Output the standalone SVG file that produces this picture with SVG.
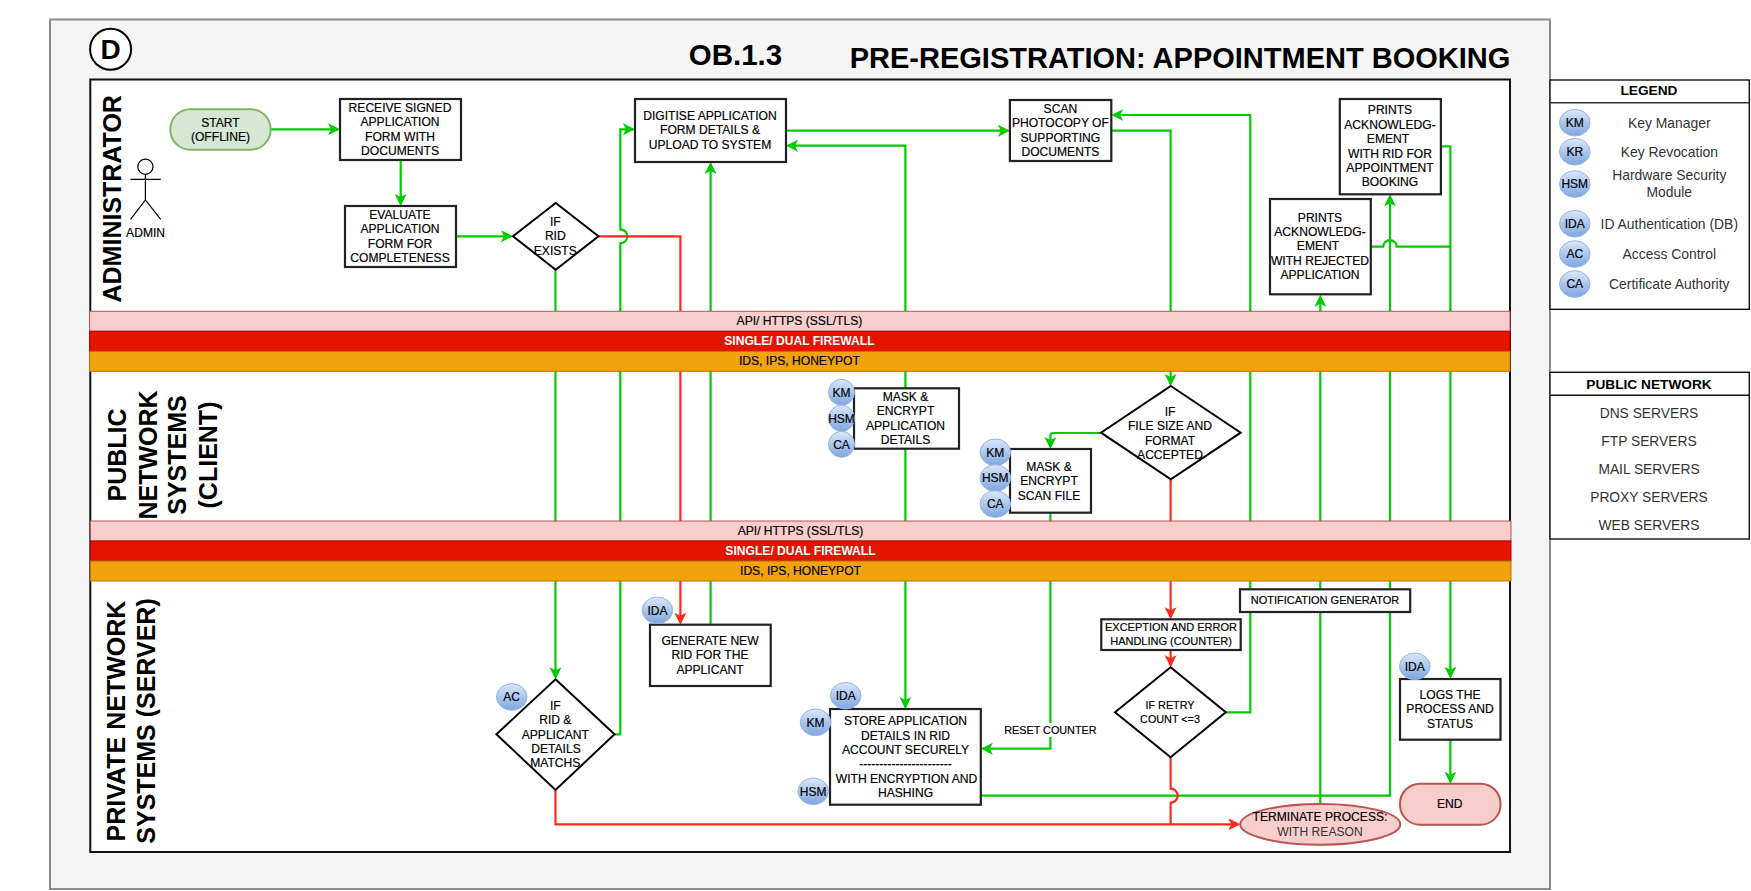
<svg xmlns="http://www.w3.org/2000/svg" width="1751" height="891" viewBox="0 0 1751 891">
<style>
text{font-family:"Liberation Sans",Arial,sans-serif;font-size:12.1px;fill:#000;stroke:#000;stroke-width:.18;text-anchor:middle}
.lane{font-size:25px;font-weight:700;stroke:none}
.title{font-weight:700;stroke:none}
.head{font-size:13.7px;font-weight:700;stroke:none}
.leg{font-size:13.9px;fill:#333;stroke:none}
.pub{font-size:13.8px;fill:#333;stroke:none}
.cir{font-size:12px}
.small{font-size:11px}
.tiny{font-size:10.8px}
.white{fill:#fff;stroke:none;font-weight:700}
.box{fill:#fff;stroke:#222;stroke-width:2.2}
.dia{fill:#fff;stroke:#000;stroke-width:2}
.bub{fill:url(#bubble);stroke:#9ab4dc;stroke-width:1}
.g{fill:none;stroke:#00cc00;stroke-width:2.2}
.r{fill:none;stroke:#ff2a1c;stroke-width:2.2}
.ga{marker-end:url(#ag)}
.ra{marker-end:url(#ar)}
.pink{fill:#f8cecc;stroke:#b85450;stroke-width:1}
.redb{fill:#e51400;stroke:#b20000;stroke-width:1}
.orb{fill:#f0a30a;stroke:#bd7000;stroke-width:1}
.term{fill:#f8cecc;stroke:#b85450;stroke-width:2}
.actor{fill:none;stroke:#000;stroke-width:1.2}
</style>
<defs>
<linearGradient id="bubble" x1="0" y1="0" x2="0" y2="1"><stop offset="0" stop-color="#dae8fc"/><stop offset="1" stop-color="#7ea6e0"/></linearGradient>
<marker id="ag" markerUnits="userSpaceOnUse" markerWidth="14" markerHeight="14" viewBox="0 0 14 14" refX="10" refY="7" orient="auto"><path d="M0 1L12 7L0 13L3 7Z" fill="#00cc00"/></marker>
<marker id="ar" markerUnits="userSpaceOnUse" markerWidth="14" markerHeight="14" viewBox="0 0 14 14" refX="10" refY="7" orient="auto"><path d="M0 1L12 7L0 13L3 7Z" fill="#ff2a1c"/></marker>
</defs>

<g id="frame">
<rect x="50" y="19.5" width="1500" height="869.5" fill="#f5f5f5" stroke="#8c8c8c" stroke-width="2"/>
<rect x="90.3" y="79.5" width="1419.7" height="772.5" fill="#fff" stroke="#111" stroke-width="2"/>
<ellipse cx="110.6" cy="49.3" rx="20.5" ry="20.5" fill="#fff" stroke="#000" stroke-width="2"/>
<text class="title" x="110.6" y="59" style="font-size:28px">D</text>
<text class="title" x="735.5" y="64.5" style="font-size:29.5px">OB.1.3</text>
<text class="title" x="1180" y="67.7" style="font-size:29px">PRE-REGISTRATION: APPOINTMENT BOOKING</text>
<text class="lane" transform="translate(120.5 198.8) rotate(-90)">ADMINISTRATOR</text>
<text class="lane" transform="translate(126.3 455) rotate(-90)">PUBLIC</text>
<text class="lane" transform="translate(157 455) rotate(-90)">NETWORK</text>
<text class="lane" transform="translate(186.4 455) rotate(-90)">SYSTEMS</text>
<text class="lane" transform="translate(216.6 455) rotate(-90)">(CLIENT)</text>
<text class="lane" transform="translate(125 721) rotate(-90)">PRIVATE NETWORK</text>
<text class="lane" transform="translate(155 721) rotate(-90)">SYSTEMS (SERVER)</text>
</g>

<g id="connectors">
<path class="g ga" d="M270.6 129.3H338"/>
<path class="g ga" d="M400.7 160V204"/>
<path class="g ga" d="M456 236.3H511"/>
<path class="g ga" d="M555.5 269.7V677.3"/>
<path class="g ga" d="M614.5 734.3H620.3V243.3A7 7 0 0 0 620.3 229.3V129.3H633"/>
<path class="r ra" d="M598.5 236.3H680.4V622.7"/>
<path class="g ga" d="M710.6 624.7V164"/>
<path class="g ga" d="M786 130.7H1007.9"/>
<path class="g ga" d="M905.4 388.3V145.7H788"/>
<path class="g ga" d="M905.4 448.7V707"/>
<path class="g ga" d="M1111.3 130.7H1170.6V384"/>
<path class="g ga" d="M1101 433H1053Q1050.4 433 1050.4 436V447"/>
<path class="g ga" d="M1050.4 512.7V748.7H982.8"/>
<path class="r ra" d="M1170.6 479.3V617.3"/>
<path class="r ra" d="M1170.6 650V665.3"/>
<path class="g ga" d="M1225.8 712.3H1250.3V115H1113.3"/>
<path class="g ga" d="M1320.3 804V296.7"/>
<path class="g ga" d="M980.8 795.7H1390V196.3"/>
<path class="g ga" d="M1440.9 146.3H1450.4V676.7"/>
<path class="g" d="M1370.8 246.7H1383.3A6.7 6.7 0 0 1 1396.7 246.7H1450.4"/>
<path class="g ga" d="M1450.4 739.7V781.7"/>
<path class="r" d="M1170.6 757.3V788.7A7 7 0 0 1 1170.6 802.7V824.3"/>
<path class="r ra" d="M555.5 790V824.3H1238.3"/>
</g>

<g id="bands">
<g id="band-api-1"><rect class="pink" x="89.6" y="311.3" width="1420.4" height="20"/><text x="799.4" y="325">API/ HTTPS (SSL/TLS)</text></g>
<g id="band-fw-1"><rect class="redb" x="89.6" y="331.3" width="1420.4" height="20"/><text class="white" x="799.4" y="345">SINGLE/ DUAL FIREWALL</text></g>
<g id="band-ids-1"><rect class="orb" x="89.6" y="351.3" width="1420.4" height="20"/><text x="799.4" y="365">IDS, IPS, HONEYPOT</text></g>
<g id="band-api-2"><rect class="pink" x="90.5" y="521" width="1420.5" height="20"/><text x="800.5" y="535">API/ HTTPS (SSL/TLS)</text></g>
<g id="band-fw-2"><rect class="redb" x="90.5" y="541" width="1420.5" height="20"/><text class="white" x="800.5" y="555">SINGLE/ DUAL FIREWALL</text></g>
<g id="band-ids-2"><rect class="orb" x="90.5" y="561" width="1420.5" height="20"/><text x="800.5" y="575">IDS, IPS, HONEYPOT</text></g>
</g>

<g id="admin-actor">
<ellipse class="actor" cx="145.4" cy="166.7" rx="7.6" ry="7.6"/>
<path class="actor" d="M145.4 174.3V200M130.5 179.3H160.7M130.5 219.3L145.4 200L160.7 219.3"/>
<text x="145.6" y="236.7">ADMIN</text>
</g>

<g id="start"><rect class="term" style="fill:#d5e8d4;stroke:#82b366" x="170.3" y="109.3" width="100.3" height="40.4" rx="20" ry="20"/><text x="220.5" y="126.7">START</text><text x="220.5" y="141">(OFFLINE)</text></g>
<g id="receive"><rect class="box" x="340" y="99" width="121" height="61"/><text x="400" y="112.3">RECEIVE SIGNED</text><text x="400" y="126.3">APPLICATION</text><text x="400" y="141.3">FORM WITH</text><text x="400" y="155.3">DOCUMENTS</text></g>
<g id="evaluate"><rect class="box" x="345" y="206" width="111" height="61"/><text x="400" y="219.3">EVALUATE</text><text x="400" y="233.3">APPLICATION</text><text x="400" y="248.3">FORM FOR</text><text x="400" y="262.3">COMPLETENESS</text></g>
<g id="rid-exists"><path class="dia" d="M555.7 203L598.5 236.3L555.7 269.7L513 236.3Z"/><text x="555.3" y="226">IF</text><text x="555.3" y="240">RID</text><text x="555.3" y="255">EXISTS</text></g>
<g id="digitise"><rect class="box" x="635" y="99" width="151" height="63"/><text x="710" y="120">DIGITISE APPLICATION</text><text x="710" y="134">FORM DETAILS &amp;</text><text x="710" y="148.7">UPLOAD TO SYSTEM</text></g>
<g id="scan"><rect class="box" x="1009.9" y="100" width="101.4" height="61"/><text x="1060.4" y="113">SCAN</text><text x="1060.4" y="127">PHOTOCOPY OF</text><text x="1060.4" y="142">SUPPORTING</text><text x="1060.4" y="156">DOCUMENTS</text></g>
<g id="prints-rid"><rect class="box" x="1339.8" y="99" width="101.1" height="95.3"/><text x="1390" y="114">PRINTS</text><text x="1390" y="129.3">ACKNOWLEDG-</text><text x="1388" y="143.3">EMENT</text><text x="1390" y="158.3">WITH RID FOR</text><text x="1390" y="172.3">APPOINTMENT</text><text x="1390" y="186">BOOKING</text></g>
<g id="prints-rejected"><rect class="box" x="1270" y="199" width="100.8" height="95.3"/><text x="1320" y="222">PRINTS</text><text x="1320" y="236">ACKNOWLEDG-</text><text x="1318" y="250">EMENT</text><text x="1320" y="264.7">WITH REJECTED</text><text x="1320" y="279">APPLICATION</text></g>
<g id="mask-app"><rect class="box" x="854" y="388.3" width="105" height="60.4"/><text x="905.5" y="401">MASK &amp;</text><text x="905.5" y="415">ENCRYPT</text><text x="905.5" y="430">APPLICATION</text><text x="905.5" y="444">DETAILS</text></g>
<g id="file-check"><path class="dia" d="M1170.8 386L1240.7 432.7L1170.8 479.3L1101 432.7Z"/><text x="1170" y="415.7">IF</text><text x="1170" y="430">FILE SIZE AND</text><text x="1170" y="445">FORMAT</text><text x="1170" y="459">ACCEPTED</text></g>
<g id="mask-scan"><rect class="box" x="1010" y="449" width="81" height="63.7"/><text x="1049" y="470.7">MASK &amp;</text><text x="1049" y="485">ENCRYPT</text><text x="1049" y="500">SCAN FILE</text></g>
<g id="notification"><rect class="box" x="1240" y="589.3" width="170.2" height="22.7"/><text x="1325" y="604.3" class="small">NOTIFICATION GENERATOR</text></g>
<g id="exception"><rect class="box" x="1101.3" y="619.3" width="139.4" height="30.7"/><text class="small" x="1171" y="631">EXCEPTION AND ERROR</text><text class="small" x="1171" y="645">HANDLING (COUNTER)</text></g>
<g id="generate"><rect class="box" x="650" y="624.7" width="120.7" height="61.3"/><text x="710" y="645">GENERATE NEW</text><text x="710" y="659">RID FOR THE</text><text x="710" y="674">APPLICANT</text></g>
<g id="rid-match"><path class="dia" d="M555.5 679.3L614.5 734.3L555.5 790L496.4 734.3Z"/><text x="555.3" y="710">IF</text><text x="555.3" y="724">RID &amp;</text><text x="555.3" y="738.5">APPLICANT</text><text x="556" y="753">DETAILS</text><text x="555.3" y="767">MATCHS</text></g>
<g id="store"><rect class="box" x="830" y="709" width="150.8" height="95.7"/><text x="905.5" y="725">STORE APPLICATION</text><text x="905.5" y="740">DETAILS IN RID</text><text x="905.5" y="754">ACCOUNT SECURELY</text><text x="905.5" y="768">-----------------------</text><text x="906.5" y="783">WITH ENCRYPTION AND</text><text x="905.5" y="797">HASHING</text></g>
<g id="reset-label"><rect x="1003" y="723" width="95" height="14" fill="#fff"/><text class="tiny" x="1050.4" y="734">RESET COUNTER</text></g>
<g id="retry"><path class="dia" d="M1170.6 667.3L1225.8 712.3L1170.6 757.3L1115 712.3Z"/><text class="tiny" x="1170" y="709.3">IF RETRY</text><text class="tiny" x="1170" y="723.3">COUNT &lt;=3</text></g>
<g id="logs"><rect class="box" x="1400" y="679" width="100.5" height="60.7"/><text x="1450" y="699.3">LOGS THE</text><text x="1450" y="713">PROCESS AND</text><text x="1450" y="728">STATUS</text></g>
<g id="end"><rect class="term" x="1400" y="783.7" width="100.5" height="41" rx="20" ry="20"/><text x="1449.7" y="808">END</text></g>
<g id="terminate"><ellipse class="term" cx="1320.3" cy="824.3" rx="80" ry="20.4"/><text x="1320" y="821">TERMINATE PROCESS:</text><text x="1320" y="836" style="fill:#333;stroke:none">WITH REASON</text></g>

<g id="b-km-1"><ellipse class="bub" cx="841.5" cy="392.3" rx="13" ry="13"/><text class="cir" x="841.5" y="396.5">KM</text></g>
<g id="b-hsm-1"><ellipse class="bub" cx="841.5" cy="418.3" rx="13" ry="13"/><text class="cir" x="841.5" y="422.5">HSM</text></g>
<g id="b-ca-1"><ellipse class="bub" cx="841.5" cy="444.3" rx="13" ry="13"/><text class="cir" x="841.5" y="448.5">CA</text></g>
<g id="b-km-2"><ellipse class="bub" cx="995.3" cy="452.3" rx="15.3" ry="13.3"/><text class="cir" x="995.3" y="456.5">KM</text></g>
<g id="b-hsm-2"><ellipse class="bub" cx="995.3" cy="478" rx="15.3" ry="13.3"/><text class="cir" x="995.3" y="482.2">HSM</text></g>
<g id="b-ca-2"><ellipse class="bub" cx="995.3" cy="504" rx="15.3" ry="13.3"/><text class="cir" x="995.3" y="508.2">CA</text></g>
<g id="b-ac"><ellipse class="bub" cx="511.7" cy="697" rx="15.3" ry="13.3"/><text class="cir" x="511.7" y="701.2">AC</text></g>
<g id="b-ida-gen"><ellipse class="bub" cx="657.4" cy="610.3" rx="15.3" ry="13.3"/><text class="cir" x="657.4" y="614.5">IDA</text></g>
<g id="b-ida-store"><ellipse class="bub" cx="845.7" cy="695.7" rx="15.3" ry="13.3"/><text class="cir" x="845.7" y="699.9">IDA</text></g>
<g id="b-km-store"><ellipse class="bub" cx="815.5" cy="722.3" rx="15.3" ry="13.3"/><text class="cir" x="815.5" y="726.5">KM</text></g>
<g id="b-hsm-store"><ellipse class="bub" cx="813.2" cy="791.3" rx="15.3" ry="13.3"/><text class="cir" x="813.2" y="795.5">HSM</text></g>
<g id="b-ida-logs"><ellipse class="bub" cx="1414.8" cy="666.3" rx="15.3" ry="13.3"/><text class="cir" x="1414.8" y="670.5">IDA</text></g>

<g id="legend">
<rect x="1550" y="80" width="199.3" height="229.3" fill="#fff" stroke="#111" stroke-width="1.4"/>
<path d="M1550 102.7H1749.3" stroke="#333" stroke-width="1.6"/>
<text class="head" x="1649" y="95.3">LEGEND</text>
<ellipse class="bub" cx="1574.8" cy="122.7" rx="15.3" ry="13.3"/><text class="cir" x="1574.8" y="126.9">KM</text><text class="leg" x="1669.3" y="128.3">Key Manager</text>
<ellipse class="bub" cx="1574.8" cy="151.7" rx="15.3" ry="13.3"/><text class="cir" x="1574.8" y="155.9">KR</text><text class="leg" x="1669.3" y="156.7">Key Revocation</text>
<ellipse class="bub" cx="1574.8" cy="184" rx="15.3" ry="13.3"/><text class="cir" x="1574.8" y="188.2">HSM</text><text class="leg" x="1669.3" y="180.3">Hardware Security</text><text class="leg" x="1669.3" y="197.3">Module</text>
<ellipse class="bub" cx="1574.8" cy="223.7" rx="15.3" ry="13.3"/><text class="cir" x="1574.8" y="227.9">IDA</text><text class="leg" x="1669.3" y="228.7">ID Authentication (DB)</text>
<ellipse class="bub" cx="1574.8" cy="254" rx="15.3" ry="13.3"/><text class="cir" x="1574.8" y="258.2">AC</text><text class="leg" x="1669.3" y="258.7">Access Control</text>
<ellipse class="bub" cx="1574.8" cy="284" rx="15.3" ry="13.3"/><text class="cir" x="1574.8" y="288.2">CA</text><text class="leg" x="1669.3" y="288.7">Certificate Authority</text>
</g>

<g id="public-network">
<rect x="1550" y="372.3" width="199.3" height="166.7" fill="#fff" stroke="#111" stroke-width="1.4"/>
<path d="M1550 395.3H1749.3" stroke="#111" stroke-width="1.4"/>
<text class="head" x="1649" y="388.7">PUBLIC NETWORK</text>
<text class="pub" x="1649" y="418">DNS SERVERS</text>
<text class="pub" x="1649" y="446">FTP SERVERS</text>
<text class="pub" x="1649" y="474">MAIL SERVERS</text>
<text class="pub" x="1649" y="502">PROXY SERVERS</text>
<text class="pub" x="1649" y="530">WEB SERVERS</text>
</g>
</svg>
